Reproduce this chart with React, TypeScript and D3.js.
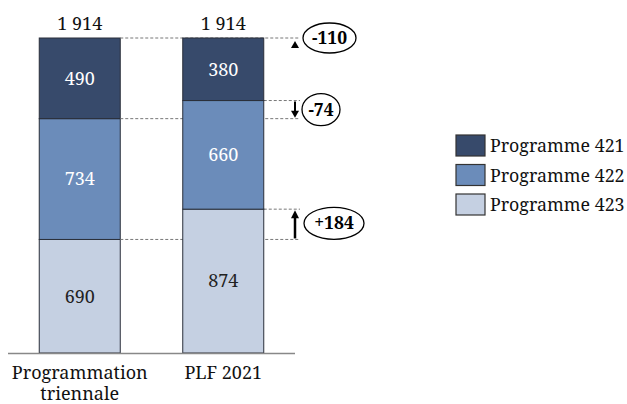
import React from "react";
import * as d3 from "d3";

const categories = ["Programmation triennale", "PLF 2021"];
const categoryLines = [["Programmation", "triennale"], ["PLF 2021"]];
const seriesNames = ["Programme 421", "Programme 422", "Programme 423"];
// values per category, stacked bottom (423) to top (421)
const p421 = [490, 380];
const p422 = [734, 660];
const p423 = [690, 874];
const totals = ["1 914", "1 914"];
const diffLabels = ["-110", "-74", "+184"];

const colors = ["#374a6b", "#6b8cba", "#c5d0e2"];
const labelColors = ["#ffffff", "#ffffff", "#222222"];
const FONT = "'Noto Serif', 'Liberation Serif', serif";

export default function App() {
  const W = 627, H = 404;
  const rows = categories.map((c, i) => ({ cat: c, p421: p421[i], p422: p422[i], p423: p423[i] }));
  const stack = d3.stack<any>().keys(["p423", "p422", "p421"])(rows);
  const maxV = d3.max(rows, (r) => r.p421 + r.p422 + r.p423) as number;
  const y = d3.scaleLinear().domain([0, maxV]).range([353, 38]);
  const x = d3.scalePoint<string>().domain(categories).range([8, 295]).padding(0.5);
  const bw = 81;
  const colorOf = (key: string) =>
    key === "p421" ? colors[0] : key === "p422" ? colors[1] : colors[2];
  const labelColorOf = (key: string) =>
    key === "p421" ? labelColors[0] : key === "p422" ? labelColors[1] : labelColors[2];

  const x0 = x(categories[0])! + bw / 2;
  const x1r = x(categories[1])! + bw / 2;
  const dashEnd = 300;
  const yTop = y(maxV);
  const y1_422 = y(p423[0] + p422[0]);
  const y1_423 = y(p423[0]);
  const y2_422 = y(p423[1] + p422[1]);
  const y2_423 = y(p423[1]);
  const ax = 295;

  const bar = (s: any, i: number) => {
    const d = s[i];
    const cx = x(categories[i])!;
    return (
      <g key={s.key + i}>
        <rect
          x={cx - bw / 2}
          y={y(d[1])}
          width={bw}
          height={y(d[0]) - y(d[1])}
          fill={colorOf(s.key)}
          stroke="#2a2f3a"
          strokeWidth={1}
        />
        <text
          x={cx}
          y={(y(d[0]) + y(d[1])) / 2}
          dy="0.35em"
          textAnchor="middle"
          fontFamily={FONT}
          fontSize={18}
          fill={labelColorOf(s.key)}
        >
          {d[1] - d[0]}
        </text>
      </g>
    );
  };

  return (
    <svg width={W} height={H} style={{ position: "absolute", left: 0, top: 0 }}>
      <rect width={W} height={H} fill="#fff" />
      {stack.map((s) => bar(s, 0))}
      {/* dashed reference lines */}
      <g stroke="#777" strokeWidth={1} strokeDasharray="3,2">
        <line x1={x0} x2={dashEnd} y1={yTop} y2={yTop} />
        <line x1={x0} x2={dashEnd} y1={y1_422} y2={y1_422} />
        <line x1={x0} x2={dashEnd} y1={y1_423} y2={y1_423} />
        <line x1={x1r} x2={dashEnd} y1={y2_422} y2={y2_422} />
        <line x1={x1r} x2={dashEnd} y1={y2_423} y2={y2_423} />
      </g>
      {stack.map((s) => bar(s, 1))}
      {categories.map((c, i) => (
        <text key={c} x={x(c)} y={30} textAnchor="middle" fontFamily={FONT} fontSize={18} fill="#111">
          {totals[i]}
        </text>
      ))}
      <line x1={8} x2={295} y1={353.5} y2={353.5} stroke="#888" strokeWidth={1.5} />
      {categories.map((c, i) => (
        <text key={c} x={x(c)} y={379} textAnchor="middle" fontFamily={FONT} fontSize={18} fill="#111">
          {categoryLines[i].map((l, j) => (
            <tspan key={j} x={x(c)} dy={j === 0 ? 0 : 21}>
              {l}
            </tspan>
          ))}
        </text>
      ))}
      {/* arrows */}
      <path d={`M${ax},${yTop + 3} L${ax - 4},${yTop + 10} L${ax + 4},${yTop + 10} Z`} fill="#000" />
      <line x1={ax} x2={ax} y1={y2_422 + 1} y2={y1_422 - 6} stroke="#000" strokeWidth={2} />
      <path d={`M${ax - 4},${y1_422 - 8} L${ax + 4},${y1_422 - 8} L${ax},${y1_422 - 1} Z`} fill="#000" />
      <line x1={ax} x2={ax} y1={y1_423 - 1} y2={y2_423 + 8} stroke="#000" strokeWidth={2.5} />
      <path d={`M${ax - 4},${y2_423 + 9} L${ax + 4},${y2_423 + 9} L${ax},${y2_423 + 1} Z`} fill="#000" />
      {/* ellipses with difference labels */}
      {[
        { cx: 329.5, cy: yTop, rx: 26.5, ry: 15 },
        { cx: 321, cy: (y1_422 + y2_422) / 2, rx: 19, ry: 16 },
        { cx: 334, cy: (y1_423 + y2_423) / 2 - 1, rx: 30, ry: 16 },
      ].map((e, i) => (
        <g key={"e" + i}>
          <ellipse cx={e.cx} cy={e.cy} rx={e.rx} ry={e.ry} fill="#fff" stroke="#000" strokeWidth={1.3} />
          <text x={e.cx} y={e.cy} dy="0.35em" textAnchor="middle" fontFamily={FONT} fontSize={17.5} fontWeight="bold" fill="#000">
            {diffLabels[i]}
          </text>
        </g>
      ))}
      {/* legend */}
      {seriesNames.map((n, i) => (
        <g key={n} transform={`translate(456, ${135 + i * 29.5})`}>
          <rect x={0} y={0} width={29} height={21} fill={colors[i]} stroke="#333" strokeWidth={1.2} />
          <text x={34} y={11} dy="0.35em" fontFamily={FONT} fontSize={17.8} fill="#111">
            {n}
          </text>
        </g>
      ))}
    </svg>
  );
}
